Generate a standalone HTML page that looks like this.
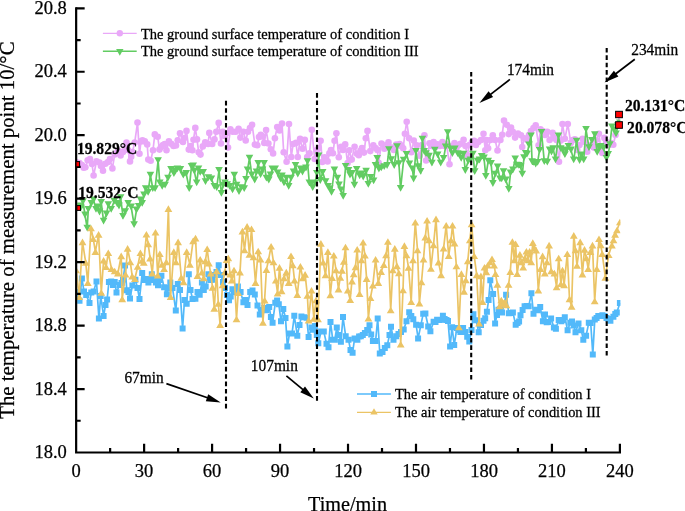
<!DOCTYPE html>
<html><head><meta charset="utf-8">
<style>
html,body{margin:0;padding:0;background:#fff;}
body{width:685px;height:511px;overflow:hidden;}
svg{display:block;will-change:transform;}
text{font-family:"Liberation Serif",serif;fill:#000;stroke:#000;stroke-width:0.25px;}
</style></head>
<body>
<svg width="685" height="511" viewBox="0 0 685 511">
<defs><clipPath id="pa"><rect x="77.2" y="0" width="543.2" height="452"/></clipPath></defs>
<g clip-path="url(#pa)">
<polyline points="76.2,162.1 79.5,163.0 82.0,165.0 83.7,167.7 85.4,167.3 87.7,160.2 90.0,159.0 92.0,164.0 93.6,175.5 96.5,161.4 99.5,162.6 101.0,166.0 103.0,170.8 105.4,163.7 108.0,162.0 110.0,159.0 112.4,168.4 114.7,154.4 116.5,153.0 118.3,150.8 120.6,155.5 123.0,152.0 125.0,148.0 126.5,142.6 128.0,150.0 130.0,161.4 131.2,156.7 132.4,152.0 134.7,142.6 137.5,122.6 139.5,153.7 141.0,141.4 142.5,140.2 144.8,141.4 147.2,144.4 148.3,159.6 150.7,160.8 153.0,150.2 154.8,134.4 157.7,136.7 159.5,149.6 161.0,147.0 163.0,145.0 164.8,144.0 166.5,150.2 168.9,141.4 171.2,143.8 173.5,146.0 176.0,145.5 177.7,140.2 180.0,133.2 183.0,142.0 184.5,138.0 186.5,130.9 188.8,149.6 190.5,146.0 192.4,150.2 193.5,139.7 195.3,127.9 197.0,139.4 198.7,152.3 200.5,154.6 202.8,146.4 205.2,142.3 208.1,144.0 209.3,132.9 212.2,144.0 214.5,139.4 216.3,131.7 218.7,122.9 221.0,143.5 222.8,131.7 224.6,135.9 226.3,133.5 228.0,147.6 230.4,129.4 232.7,131.7 235.7,131.7 238.6,128.8 240.4,137.6 243.3,131.7 245.7,140.5 248.0,131.7 250.0,128.0 252.1,124.7 254.9,144.6 257.3,145.2 259.0,137.0 260.8,134.8 262.6,136.4 264.3,142.9 266.1,130.0 268.4,143.5 270.8,149.3 273.1,153.4 274.9,138.2 277.2,127.0 279.6,130.5 282.0,123.5 283.7,152.3 286.6,161.7 289.0,124.1 291.3,157.0 293.1,144.0 296.0,142.9 297.8,157.0 300.1,138.8 302.5,148.7 304.8,139.9 307.2,157.0 309.5,153.4 311.8,129.7 314.7,159.0 317.0,150.0 318.8,148.0 320.6,140.8 322.3,162.0 324.7,157.3 327.6,161.4 329.4,153.2 331.0,150.0 332.9,153.2 334.6,140.7 336.4,133.2 338.8,157.3 341.1,146.7 343.0,150.0 345.2,144.4 347.6,163.1 349.3,150.2 351.7,159.6 354.6,146.7 357.0,153.7 358.8,155.3 360.5,150.8 362.0,148.0 364.0,152.6 365.8,138.3 367.5,130.9 370.3,151.1 373.3,145.2 375.5,148.0 377.4,149.9 378.6,162.8 381.5,143.5 384.4,148.7 386.5,145.0 388.5,142.3 391.5,147.6 393.8,150.0 396.2,144.6 397.9,145.8 399.7,144.0 401.5,146.0 403.2,148.2 404.9,133.7 406.7,121.7 409.1,138.2 411.4,152.3 413.8,140.5 416.7,145.2 419.7,155.8 422.0,145.0 424.4,135.2 426.1,160.5 427.8,155.4 429.5,143.2 431.5,146.0 433.6,142.0 435.5,147.0 437.7,144.4 440.0,146.0 442.4,142.0 444.5,146.0 446.5,144.4 449.5,164.3 452.4,146.1 454.5,143.0 456.5,148.0 458.5,145.0 460.6,143.8 463.6,139.7 465.5,146.0 467.1,154.9 469.5,145.0 472.0,142.0 474.1,140.8 476.0,145.0 478.2,142.0 481.0,140.0 483.5,133.8 485.3,150.2 486.3,140.0 488.1,148.2 490.5,140.0 492.8,135.2 495.2,140.0 497.5,150.5 500.4,140.0 502.2,134.7 504.0,120.6 506.9,124.7 508.7,134.1 511.0,127.6 512.8,131.7 515.1,137.6 518.0,133.5 521.0,135.2 522.2,147.0 524.5,138.2 527.4,140.0 529.0,135.0 531.0,131.1 533.5,128.0 535.7,125.3 538.6,145.2 540.5,129.4 542.7,131.1 545.0,135.0 547.3,131.7 549.6,140.0 552.6,132.9 554.5,138.0 556.5,140.0 559.0,161.7 560.8,140.5 562.5,124.1 564.9,138.8 567.8,124.1 570.8,142.9 572.8,140.0 574.9,139.4 577.2,149.9 579.5,145.0 582.5,138.8 584.5,142.0 587.2,151.7 589.5,146.0 591.5,145.0 593.7,147.6 596.0,140.0 598.9,133.8 600.6,146.7 602.3,153.0 604.4,137.9 606.5,142.0 609.0,145.0 611.0,143.0 613.3,144.7 615.5,135.0 617.4,125.0 619.9,114.4" fill="none" stroke="#E9A8F8" stroke-width="1.7"/>
<g fill="#E9A8F8"><circle cx="76.2" cy="162.1" r="3.3"/><circle cx="79.5" cy="163.0" r="3.3"/><circle cx="82.0" cy="165.0" r="3.3"/><circle cx="83.7" cy="167.7" r="3.3"/><circle cx="85.4" cy="167.3" r="3.3"/><circle cx="87.7" cy="160.2" r="3.3"/><circle cx="90.0" cy="159.0" r="3.3"/><circle cx="92.0" cy="164.0" r="3.3"/><circle cx="93.6" cy="175.5" r="3.3"/><circle cx="96.5" cy="161.4" r="3.3"/><circle cx="99.5" cy="162.6" r="3.3"/><circle cx="101.0" cy="166.0" r="3.3"/><circle cx="103.0" cy="170.8" r="3.3"/><circle cx="105.4" cy="163.7" r="3.3"/><circle cx="108.0" cy="162.0" r="3.3"/><circle cx="110.0" cy="159.0" r="3.3"/><circle cx="112.4" cy="168.4" r="3.3"/><circle cx="114.7" cy="154.4" r="3.3"/><circle cx="116.5" cy="153.0" r="3.3"/><circle cx="118.3" cy="150.8" r="3.3"/><circle cx="120.6" cy="155.5" r="3.3"/><circle cx="123.0" cy="152.0" r="3.3"/><circle cx="125.0" cy="148.0" r="3.3"/><circle cx="126.5" cy="142.6" r="3.3"/><circle cx="128.0" cy="150.0" r="3.3"/><circle cx="130.0" cy="161.4" r="3.3"/><circle cx="131.2" cy="156.7" r="3.3"/><circle cx="132.4" cy="152.0" r="3.3"/><circle cx="134.7" cy="142.6" r="3.3"/><circle cx="137.5" cy="122.6" r="3.3"/><circle cx="139.5" cy="153.7" r="3.3"/><circle cx="141.0" cy="141.4" r="3.3"/><circle cx="142.5" cy="140.2" r="3.3"/><circle cx="144.8" cy="141.4" r="3.3"/><circle cx="147.2" cy="144.4" r="3.3"/><circle cx="148.3" cy="159.6" r="3.3"/><circle cx="150.7" cy="160.8" r="3.3"/><circle cx="153.0" cy="150.2" r="3.3"/><circle cx="154.8" cy="134.4" r="3.3"/><circle cx="157.7" cy="136.7" r="3.3"/><circle cx="159.5" cy="149.6" r="3.3"/><circle cx="161.0" cy="147.0" r="3.3"/><circle cx="163.0" cy="145.0" r="3.3"/><circle cx="164.8" cy="144.0" r="3.3"/><circle cx="166.5" cy="150.2" r="3.3"/><circle cx="168.9" cy="141.4" r="3.3"/><circle cx="171.2" cy="143.8" r="3.3"/><circle cx="173.5" cy="146.0" r="3.3"/><circle cx="176.0" cy="145.5" r="3.3"/><circle cx="177.7" cy="140.2" r="3.3"/><circle cx="180.0" cy="133.2" r="3.3"/><circle cx="183.0" cy="142.0" r="3.3"/><circle cx="184.5" cy="138.0" r="3.3"/><circle cx="186.5" cy="130.9" r="3.3"/><circle cx="188.8" cy="149.6" r="3.3"/><circle cx="190.5" cy="146.0" r="3.3"/><circle cx="192.4" cy="150.2" r="3.3"/><circle cx="193.5" cy="139.7" r="3.3"/><circle cx="195.3" cy="127.9" r="3.3"/><circle cx="197.0" cy="139.4" r="3.3"/><circle cx="198.7" cy="152.3" r="3.3"/><circle cx="200.5" cy="154.6" r="3.3"/><circle cx="202.8" cy="146.4" r="3.3"/><circle cx="205.2" cy="142.3" r="3.3"/><circle cx="208.1" cy="144.0" r="3.3"/><circle cx="209.3" cy="132.9" r="3.3"/><circle cx="212.2" cy="144.0" r="3.3"/><circle cx="214.5" cy="139.4" r="3.3"/><circle cx="216.3" cy="131.7" r="3.3"/><circle cx="218.7" cy="122.9" r="3.3"/><circle cx="221.0" cy="143.5" r="3.3"/><circle cx="222.8" cy="131.7" r="3.3"/><circle cx="224.6" cy="135.9" r="3.3"/><circle cx="226.3" cy="133.5" r="3.3"/><circle cx="228.0" cy="147.6" r="3.3"/><circle cx="230.4" cy="129.4" r="3.3"/><circle cx="232.7" cy="131.7" r="3.3"/><circle cx="235.7" cy="131.7" r="3.3"/><circle cx="238.6" cy="128.8" r="3.3"/><circle cx="240.4" cy="137.6" r="3.3"/><circle cx="243.3" cy="131.7" r="3.3"/><circle cx="245.7" cy="140.5" r="3.3"/><circle cx="248.0" cy="131.7" r="3.3"/><circle cx="250.0" cy="128.0" r="3.3"/><circle cx="252.1" cy="124.7" r="3.3"/><circle cx="254.9" cy="144.6" r="3.3"/><circle cx="257.3" cy="145.2" r="3.3"/><circle cx="259.0" cy="137.0" r="3.3"/><circle cx="260.8" cy="134.8" r="3.3"/><circle cx="262.6" cy="136.4" r="3.3"/><circle cx="264.3" cy="142.9" r="3.3"/><circle cx="266.1" cy="130.0" r="3.3"/><circle cx="268.4" cy="143.5" r="3.3"/><circle cx="270.8" cy="149.3" r="3.3"/><circle cx="273.1" cy="153.4" r="3.3"/><circle cx="274.9" cy="138.2" r="3.3"/><circle cx="277.2" cy="127.0" r="3.3"/><circle cx="279.6" cy="130.5" r="3.3"/><circle cx="282.0" cy="123.5" r="3.3"/><circle cx="283.7" cy="152.3" r="3.3"/><circle cx="286.6" cy="161.7" r="3.3"/><circle cx="289.0" cy="124.1" r="3.3"/><circle cx="291.3" cy="157.0" r="3.3"/><circle cx="293.1" cy="144.0" r="3.3"/><circle cx="296.0" cy="142.9" r="3.3"/><circle cx="297.8" cy="157.0" r="3.3"/><circle cx="300.1" cy="138.8" r="3.3"/><circle cx="302.5" cy="148.7" r="3.3"/><circle cx="304.8" cy="139.9" r="3.3"/><circle cx="307.2" cy="157.0" r="3.3"/><circle cx="309.5" cy="153.4" r="3.3"/><circle cx="311.8" cy="129.7" r="3.3"/><circle cx="314.7" cy="159.0" r="3.3"/><circle cx="317.0" cy="150.0" r="3.3"/><circle cx="318.8" cy="148.0" r="3.3"/><circle cx="320.6" cy="140.8" r="3.3"/><circle cx="322.3" cy="162.0" r="3.3"/><circle cx="324.7" cy="157.3" r="3.3"/><circle cx="327.6" cy="161.4" r="3.3"/><circle cx="329.4" cy="153.2" r="3.3"/><circle cx="331.0" cy="150.0" r="3.3"/><circle cx="332.9" cy="153.2" r="3.3"/><circle cx="334.6" cy="140.7" r="3.3"/><circle cx="336.4" cy="133.2" r="3.3"/><circle cx="338.8" cy="157.3" r="3.3"/><circle cx="341.1" cy="146.7" r="3.3"/><circle cx="343.0" cy="150.0" r="3.3"/><circle cx="345.2" cy="144.4" r="3.3"/><circle cx="347.6" cy="163.1" r="3.3"/><circle cx="349.3" cy="150.2" r="3.3"/><circle cx="351.7" cy="159.6" r="3.3"/><circle cx="354.6" cy="146.7" r="3.3"/><circle cx="357.0" cy="153.7" r="3.3"/><circle cx="358.8" cy="155.3" r="3.3"/><circle cx="360.5" cy="150.8" r="3.3"/><circle cx="362.0" cy="148.0" r="3.3"/><circle cx="364.0" cy="152.6" r="3.3"/><circle cx="365.8" cy="138.3" r="3.3"/><circle cx="367.5" cy="130.9" r="3.3"/><circle cx="370.3" cy="151.1" r="3.3"/><circle cx="373.3" cy="145.2" r="3.3"/><circle cx="375.5" cy="148.0" r="3.3"/><circle cx="377.4" cy="149.9" r="3.3"/><circle cx="378.6" cy="162.8" r="3.3"/><circle cx="381.5" cy="143.5" r="3.3"/><circle cx="384.4" cy="148.7" r="3.3"/><circle cx="386.5" cy="145.0" r="3.3"/><circle cx="388.5" cy="142.3" r="3.3"/><circle cx="391.5" cy="147.6" r="3.3"/><circle cx="393.8" cy="150.0" r="3.3"/><circle cx="396.2" cy="144.6" r="3.3"/><circle cx="397.9" cy="145.8" r="3.3"/><circle cx="399.7" cy="144.0" r="3.3"/><circle cx="401.5" cy="146.0" r="3.3"/><circle cx="403.2" cy="148.2" r="3.3"/><circle cx="404.9" cy="133.7" r="3.3"/><circle cx="406.7" cy="121.7" r="3.3"/><circle cx="409.1" cy="138.2" r="3.3"/><circle cx="411.4" cy="152.3" r="3.3"/><circle cx="413.8" cy="140.5" r="3.3"/><circle cx="416.7" cy="145.2" r="3.3"/><circle cx="419.7" cy="155.8" r="3.3"/><circle cx="422.0" cy="145.0" r="3.3"/><circle cx="424.4" cy="135.2" r="3.3"/><circle cx="426.1" cy="160.5" r="3.3"/><circle cx="427.8" cy="155.4" r="3.3"/><circle cx="429.5" cy="143.2" r="3.3"/><circle cx="431.5" cy="146.0" r="3.3"/><circle cx="433.6" cy="142.0" r="3.3"/><circle cx="435.5" cy="147.0" r="3.3"/><circle cx="437.7" cy="144.4" r="3.3"/><circle cx="440.0" cy="146.0" r="3.3"/><circle cx="442.4" cy="142.0" r="3.3"/><circle cx="444.5" cy="146.0" r="3.3"/><circle cx="446.5" cy="144.4" r="3.3"/><circle cx="449.5" cy="164.3" r="3.3"/><circle cx="452.4" cy="146.1" r="3.3"/><circle cx="454.5" cy="143.0" r="3.3"/><circle cx="456.5" cy="148.0" r="3.3"/><circle cx="458.5" cy="145.0" r="3.3"/><circle cx="460.6" cy="143.8" r="3.3"/><circle cx="463.6" cy="139.7" r="3.3"/><circle cx="465.5" cy="146.0" r="3.3"/><circle cx="467.1" cy="154.9" r="3.3"/><circle cx="469.5" cy="145.0" r="3.3"/><circle cx="472.0" cy="142.0" r="3.3"/><circle cx="474.1" cy="140.8" r="3.3"/><circle cx="476.0" cy="145.0" r="3.3"/><circle cx="478.2" cy="142.0" r="3.3"/><circle cx="481.0" cy="140.0" r="3.3"/><circle cx="483.5" cy="133.8" r="3.3"/><circle cx="485.3" cy="150.2" r="3.3"/><circle cx="486.3" cy="140.0" r="3.3"/><circle cx="488.1" cy="148.2" r="3.3"/><circle cx="490.5" cy="140.0" r="3.3"/><circle cx="492.8" cy="135.2" r="3.3"/><circle cx="495.2" cy="140.0" r="3.3"/><circle cx="497.5" cy="150.5" r="3.3"/><circle cx="500.4" cy="140.0" r="3.3"/><circle cx="502.2" cy="134.7" r="3.3"/><circle cx="504.0" cy="120.6" r="3.3"/><circle cx="506.9" cy="124.7" r="3.3"/><circle cx="508.7" cy="134.1" r="3.3"/><circle cx="511.0" cy="127.6" r="3.3"/><circle cx="512.8" cy="131.7" r="3.3"/><circle cx="515.1" cy="137.6" r="3.3"/><circle cx="518.0" cy="133.5" r="3.3"/><circle cx="521.0" cy="135.2" r="3.3"/><circle cx="522.2" cy="147.0" r="3.3"/><circle cx="524.5" cy="138.2" r="3.3"/><circle cx="527.4" cy="140.0" r="3.3"/><circle cx="529.0" cy="135.0" r="3.3"/><circle cx="531.0" cy="131.1" r="3.3"/><circle cx="533.5" cy="128.0" r="3.3"/><circle cx="535.7" cy="125.3" r="3.3"/><circle cx="538.6" cy="145.2" r="3.3"/><circle cx="540.5" cy="129.4" r="3.3"/><circle cx="542.7" cy="131.1" r="3.3"/><circle cx="545.0" cy="135.0" r="3.3"/><circle cx="547.3" cy="131.7" r="3.3"/><circle cx="549.6" cy="140.0" r="3.3"/><circle cx="552.6" cy="132.9" r="3.3"/><circle cx="554.5" cy="138.0" r="3.3"/><circle cx="556.5" cy="140.0" r="3.3"/><circle cx="559.0" cy="161.7" r="3.3"/><circle cx="560.8" cy="140.5" r="3.3"/><circle cx="562.5" cy="124.1" r="3.3"/><circle cx="564.9" cy="138.8" r="3.3"/><circle cx="567.8" cy="124.1" r="3.3"/><circle cx="570.8" cy="142.9" r="3.3"/><circle cx="572.8" cy="140.0" r="3.3"/><circle cx="574.9" cy="139.4" r="3.3"/><circle cx="577.2" cy="149.9" r="3.3"/><circle cx="579.5" cy="145.0" r="3.3"/><circle cx="582.5" cy="138.8" r="3.3"/><circle cx="584.5" cy="142.0" r="3.3"/><circle cx="587.2" cy="151.7" r="3.3"/><circle cx="589.5" cy="146.0" r="3.3"/><circle cx="591.5" cy="145.0" r="3.3"/><circle cx="593.7" cy="147.6" r="3.3"/><circle cx="596.0" cy="140.0" r="3.3"/><circle cx="598.9" cy="133.8" r="3.3"/><circle cx="600.6" cy="146.7" r="3.3"/><circle cx="602.3" cy="153.0" r="3.3"/><circle cx="604.4" cy="137.9" r="3.3"/><circle cx="606.5" cy="142.0" r="3.3"/><circle cx="609.0" cy="145.0" r="3.3"/><circle cx="611.0" cy="143.0" r="3.3"/><circle cx="613.3" cy="144.7" r="3.3"/><circle cx="615.5" cy="135.0" r="3.3"/><circle cx="617.4" cy="125.0" r="3.3"/><circle cx="619.9" cy="114.4" r="3.3"/></g>
<polyline points="76.2,209.5 78.5,206.0 80.7,208.2 83.0,201.7 85.0,215.0 87.2,228.1 88.3,209.4 91.3,203.5 93.6,200.0 96.0,209.4 97.7,207.0 99.5,212.0 101.2,202.3 103.6,221.1 106.5,214.0 108.3,204.7 111.2,209.4 114.2,201.1 117.1,203.5 119.0,206.0 120.6,197.6 123.0,216.4 125.3,211.7 128.2,203.5 131.2,207.0 134.1,224.6 136.5,210.0 138.7,206.4 140.5,200.0 142.2,203.4 144.0,195.0 145.7,188.7 148.1,192.3 150.4,175.2 152.8,188.7 155.1,188.7 158.1,160.6 159.8,182.9 162.2,186.4 165.1,185.2 168.0,178.2 171.0,169.4 173.9,173.5 175.5,171.0 177.4,168.8 180.4,169.4 183.3,175.2 186.2,173.5 189.2,188.7 191.5,166.4 193.2,165.9 194.3,171.1 196.7,182.9 198.5,168.8 200.2,172.3 203.2,172.3 205.5,181.7 208.4,177.6 211.4,178.8 214.3,186.4 216.7,187.6 219.0,170.5 221.4,193.4 223.1,185.2 225.0,183.0 227.2,184.6 229.6,186.4 232.5,189.9 234.3,175.2 236.6,185.2 239.0,191.7 241.3,187.6 244.2,188.7 246.0,179.4 247.5,170.0 249.5,158.2 251.8,175.0 254.7,180.0 256.5,172.0 258.2,163.5 260.6,174.7 262.5,170.0 264.1,163.5 266.4,178.2 268.8,180.0 270.5,175.0 272.3,168.8 275.2,168.8 277.6,172.9 280.5,178.8 282.0,176.0 284.0,182.9 286.4,178.2 288.7,186.4 291.1,178.2 293.5,172.0 295.5,165.3 297.8,174.1 300.5,168.8 302.5,172.0 304.0,169.4 306.0,168.0 307.5,161.7 309.3,182.9 311.0,184.0 312.7,187.6 315.0,183.0 316.8,173.3 318.6,155.9 320.3,180.5 322.7,172.3 325.6,181.7 328.0,186.4 329.8,189.0 331.5,192.3 334.4,170.0 337.4,178.2 339.0,185.0 340.9,189.9 343.2,196.4 345.6,166.4 348.5,170.5 350.0,175.0 352.0,173.5 354.4,185.2 356.7,169.4 359.7,175.8 361.5,174.0 363.2,177.0 366.1,171.1 368.3,184.3 370.7,177.3 373.6,180.8 375.5,165.5 377.2,158.5 378.9,169.0 381.3,167.9 384.2,166.7 387.1,165.5 388.9,149.7 391.2,159.7 394.2,165.5 397.1,146.7 398.9,163.7 400.6,188.4 403.6,160.2 406.5,154.4 409.4,163.8 412.4,169.0 413.6,179.0 415.9,151.4 418.2,166.7 420.6,171.4 422.4,139.1 424.1,151.4 426.0,153.7 429.0,156.1 431.9,163.1 434.8,150.2 437.7,154.9 440.7,163.1 443.6,158.4 445.6,146.9 447.7,132.6 450.5,149.0 452.4,153.7 454.8,149.0 457.7,153.7 459.4,154.6 461.2,158.4 463.5,154.1 465.3,170.5 468.2,161.1 470.5,160.0 472.9,154.1 474.7,171.7 477.6,161.1 479.5,160.0 481.7,156.4 484.0,158.0 485.8,176.4 488.2,161.1 491.1,163.5 492.9,183.5 495.2,174.1 497.6,167.0 500.0,178.8 501.8,178.8 503.5,171.7 505.8,180.0 508.8,189.3 510.5,172.9 512.9,170.0 515.2,158.8 516.9,165.2 518.8,165.3 520.5,166.4 522.3,174.1 524.0,157.6 525.7,153.4 527.0,154.1 529.0,145.0 531.0,135.8 532.1,161.7 533.4,162.3 535.7,164.0 537.6,162.3 539.5,150.4 541.5,132.3 544.3,161.7 547.3,162.2 549.6,149.9 551.5,152.0 553.2,148.7 555.5,159.9 558.4,135.8 560.8,148.7 563.0,150.0 564.9,154.6 566.5,150.0 568.4,146.4 571.0,150.0 573.7,159.9 576.6,141.1 579.6,160.5 581.5,155.0 583.7,159.9 586.0,129.4 589.0,147.6 591.9,140.5 594.8,134.7 597.2,152.3 599.0,147.3 600.7,146.4 603.5,148.0 606.4,158.4 608.1,154.4 609.9,144.7 611.9,126.9 614.0,130.0 616.0,133.8 618.0,125.5 619.9,122.9" fill="none" stroke="#62CC62" stroke-width="1.7"/>
<path fill="#62CC62" d="M72.4,206.1h7.6l-3.8,6.8zM74.7,202.6h7.6l-3.8,6.8zM76.9,204.8h7.6l-3.8,6.8zM79.2,198.3h7.6l-3.8,6.8zM81.2,211.6h7.6l-3.8,6.8zM83.4,224.7h7.6l-3.8,6.8zM84.5,206.0h7.6l-3.8,6.8zM87.5,200.1h7.6l-3.8,6.8zM89.8,196.6h7.6l-3.8,6.8zM92.2,206.0h7.6l-3.8,6.8zM93.9,203.6h7.6l-3.8,6.8zM95.7,208.6h7.6l-3.8,6.8zM97.4,198.9h7.6l-3.8,6.8zM99.8,217.7h7.6l-3.8,6.8zM102.7,210.6h7.6l-3.8,6.8zM104.5,201.3h7.6l-3.8,6.8zM107.4,206.0h7.6l-3.8,6.8zM110.4,197.7h7.6l-3.8,6.8zM113.3,200.1h7.6l-3.8,6.8zM115.2,202.6h7.6l-3.8,6.8zM116.8,194.2h7.6l-3.8,6.8zM119.2,213.0h7.6l-3.8,6.8zM121.5,208.3h7.6l-3.8,6.8zM124.4,200.1h7.6l-3.8,6.8zM127.4,203.6h7.6l-3.8,6.8zM130.3,221.2h7.6l-3.8,6.8zM132.7,206.6h7.6l-3.8,6.8zM134.9,203.0h7.6l-3.8,6.8zM136.7,196.6h7.6l-3.8,6.8zM138.4,200.0h7.6l-3.8,6.8zM140.2,191.6h7.6l-3.8,6.8zM141.9,185.3h7.6l-3.8,6.8zM144.3,188.9h7.6l-3.8,6.8zM146.6,171.8h7.6l-3.8,6.8zM149.0,185.3h7.6l-3.8,6.8zM151.3,185.3h7.6l-3.8,6.8zM154.3,157.2h7.6l-3.8,6.8zM156.0,179.5h7.6l-3.8,6.8zM158.4,183.0h7.6l-3.8,6.8zM161.3,181.8h7.6l-3.8,6.8zM164.2,174.8h7.6l-3.8,6.8zM167.2,166.0h7.6l-3.8,6.8zM170.1,170.1h7.6l-3.8,6.8zM171.7,167.6h7.6l-3.8,6.8zM173.6,165.4h7.6l-3.8,6.8zM176.6,166.0h7.6l-3.8,6.8zM179.5,171.8h7.6l-3.8,6.8zM182.4,170.1h7.6l-3.8,6.8zM185.4,185.3h7.6l-3.8,6.8zM187.7,163.0h7.6l-3.8,6.8zM189.4,162.5h7.6l-3.8,6.8zM190.5,167.7h7.6l-3.8,6.8zM192.9,179.5h7.6l-3.8,6.8zM194.7,165.4h7.6l-3.8,6.8zM196.4,168.9h7.6l-3.8,6.8zM199.4,168.9h7.6l-3.8,6.8zM201.7,178.3h7.6l-3.8,6.8zM204.6,174.2h7.6l-3.8,6.8zM207.6,175.4h7.6l-3.8,6.8zM210.5,183.0h7.6l-3.8,6.8zM212.9,184.2h7.6l-3.8,6.8zM215.2,167.1h7.6l-3.8,6.8zM217.6,190.0h7.6l-3.8,6.8zM219.3,181.8h7.6l-3.8,6.8zM221.2,179.6h7.6l-3.8,6.8zM223.4,181.2h7.6l-3.8,6.8zM225.8,183.0h7.6l-3.8,6.8zM228.7,186.5h7.6l-3.8,6.8zM230.5,171.8h7.6l-3.8,6.8zM232.8,181.8h7.6l-3.8,6.8zM235.2,188.3h7.6l-3.8,6.8zM237.5,184.2h7.6l-3.8,6.8zM240.4,185.3h7.6l-3.8,6.8zM242.2,176.0h7.6l-3.8,6.8zM243.7,166.6h7.6l-3.8,6.8zM245.7,154.8h7.6l-3.8,6.8zM248.0,171.6h7.6l-3.8,6.8zM250.9,176.6h7.6l-3.8,6.8zM252.7,168.6h7.6l-3.8,6.8zM254.4,160.1h7.6l-3.8,6.8zM256.8,171.3h7.6l-3.8,6.8zM258.7,166.6h7.6l-3.8,6.8zM260.3,160.1h7.6l-3.8,6.8zM262.6,174.8h7.6l-3.8,6.8zM265.0,176.6h7.6l-3.8,6.8zM266.7,171.6h7.6l-3.8,6.8zM268.5,165.4h7.6l-3.8,6.8zM271.4,165.4h7.6l-3.8,6.8zM273.8,169.5h7.6l-3.8,6.8zM276.7,175.4h7.6l-3.8,6.8zM278.2,172.6h7.6l-3.8,6.8zM280.2,179.5h7.6l-3.8,6.8zM282.6,174.8h7.6l-3.8,6.8zM284.9,183.0h7.6l-3.8,6.8zM287.3,174.8h7.6l-3.8,6.8zM289.7,168.6h7.6l-3.8,6.8zM291.7,161.9h7.6l-3.8,6.8zM294.0,170.7h7.6l-3.8,6.8zM296.7,165.4h7.6l-3.8,6.8zM298.7,168.6h7.6l-3.8,6.8zM300.2,166.0h7.6l-3.8,6.8zM302.2,164.6h7.6l-3.8,6.8zM303.7,158.3h7.6l-3.8,6.8zM305.5,179.5h7.6l-3.8,6.8zM307.2,180.6h7.6l-3.8,6.8zM308.9,184.2h7.6l-3.8,6.8zM311.2,179.6h7.6l-3.8,6.8zM313.0,169.9h7.6l-3.8,6.8zM314.8,152.5h7.6l-3.8,6.8zM316.5,177.1h7.6l-3.8,6.8zM318.9,168.9h7.6l-3.8,6.8zM321.8,178.3h7.6l-3.8,6.8zM324.2,183.0h7.6l-3.8,6.8zM326.0,185.6h7.6l-3.8,6.8zM327.7,188.9h7.6l-3.8,6.8zM330.6,166.6h7.6l-3.8,6.8zM333.6,174.8h7.6l-3.8,6.8zM335.2,181.6h7.6l-3.8,6.8zM337.1,186.5h7.6l-3.8,6.8zM339.4,193.0h7.6l-3.8,6.8zM341.8,163.0h7.6l-3.8,6.8zM344.7,167.1h7.6l-3.8,6.8zM346.2,171.6h7.6l-3.8,6.8zM348.2,170.1h7.6l-3.8,6.8zM350.6,181.8h7.6l-3.8,6.8zM352.9,166.0h7.6l-3.8,6.8zM355.9,172.4h7.6l-3.8,6.8zM357.7,170.6h7.6l-3.8,6.8zM359.4,173.6h7.6l-3.8,6.8zM362.3,167.7h7.6l-3.8,6.8zM364.5,180.9h7.6l-3.8,6.8zM366.9,173.9h7.6l-3.8,6.8zM369.8,177.4h7.6l-3.8,6.8zM371.7,162.1h7.6l-3.8,6.8zM373.4,155.1h7.6l-3.8,6.8zM375.1,165.6h7.6l-3.8,6.8zM377.5,164.5h7.6l-3.8,6.8zM380.4,163.3h7.6l-3.8,6.8zM383.3,162.1h7.6l-3.8,6.8zM385.1,146.3h7.6l-3.8,6.8zM387.4,156.3h7.6l-3.8,6.8zM390.4,162.1h7.6l-3.8,6.8zM393.3,143.3h7.6l-3.8,6.8zM395.1,160.3h7.6l-3.8,6.8zM396.8,185.0h7.6l-3.8,6.8zM399.8,156.8h7.6l-3.8,6.8zM402.7,151.0h7.6l-3.8,6.8zM405.6,160.4h7.6l-3.8,6.8zM408.6,165.6h7.6l-3.8,6.8zM409.8,175.6h7.6l-3.8,6.8zM412.1,148.0h7.6l-3.8,6.8zM414.4,163.3h7.6l-3.8,6.8zM416.8,168.0h7.6l-3.8,6.8zM418.6,135.7h7.6l-3.8,6.8zM420.3,148.0h7.6l-3.8,6.8zM422.2,150.3h7.6l-3.8,6.8zM425.2,152.7h7.6l-3.8,6.8zM428.1,159.7h7.6l-3.8,6.8zM431.0,146.8h7.6l-3.8,6.8zM433.9,151.5h7.6l-3.8,6.8zM436.9,159.7h7.6l-3.8,6.8zM439.8,155.0h7.6l-3.8,6.8zM441.8,143.5h7.6l-3.8,6.8zM443.9,129.2h7.6l-3.8,6.8zM446.7,145.6h7.6l-3.8,6.8zM448.6,150.3h7.6l-3.8,6.8zM451.0,145.6h7.6l-3.8,6.8zM453.9,150.3h7.6l-3.8,6.8zM455.6,151.2h7.6l-3.8,6.8zM457.4,155.0h7.6l-3.8,6.8zM459.7,150.7h7.6l-3.8,6.8zM461.5,167.1h7.6l-3.8,6.8zM464.4,157.7h7.6l-3.8,6.8zM466.7,156.6h7.6l-3.8,6.8zM469.1,150.7h7.6l-3.8,6.8zM470.9,168.3h7.6l-3.8,6.8zM473.8,157.7h7.6l-3.8,6.8zM475.7,156.6h7.6l-3.8,6.8zM477.9,153.0h7.6l-3.8,6.8zM480.2,154.6h7.6l-3.8,6.8zM482.0,173.0h7.6l-3.8,6.8zM484.4,157.7h7.6l-3.8,6.8zM487.3,160.1h7.6l-3.8,6.8zM489.1,180.1h7.6l-3.8,6.8zM491.4,170.7h7.6l-3.8,6.8zM493.8,163.6h7.6l-3.8,6.8zM496.2,175.4h7.6l-3.8,6.8zM497.9,175.4h7.6l-3.8,6.8zM499.7,168.3h7.6l-3.8,6.8zM502.0,176.6h7.6l-3.8,6.8zM505.0,185.9h7.6l-3.8,6.8zM506.7,169.5h7.6l-3.8,6.8zM509.1,166.6h7.6l-3.8,6.8zM511.4,155.4h7.6l-3.8,6.8zM513.1,161.8h7.6l-3.8,6.8zM515.0,161.9h7.6l-3.8,6.8zM516.8,163.0h7.6l-3.8,6.8zM518.5,170.7h7.6l-3.8,6.8zM520.2,154.2h7.6l-3.8,6.8zM521.9,150.0h7.6l-3.8,6.8zM523.2,150.7h7.6l-3.8,6.8zM525.2,141.6h7.6l-3.8,6.8zM527.2,132.4h7.6l-3.8,6.8zM528.3,158.3h7.6l-3.8,6.8zM529.6,158.9h7.6l-3.8,6.8zM531.9,160.6h7.6l-3.8,6.8zM533.8,158.9h7.6l-3.8,6.8zM535.8,147.0h7.6l-3.8,6.8zM537.7,128.9h7.6l-3.8,6.8zM540.5,158.3h7.6l-3.8,6.8zM543.5,158.8h7.6l-3.8,6.8zM545.8,146.5h7.6l-3.8,6.8zM547.7,148.6h7.6l-3.8,6.8zM549.4,145.3h7.6l-3.8,6.8zM551.7,156.5h7.6l-3.8,6.8zM554.6,132.4h7.6l-3.8,6.8zM557.0,145.3h7.6l-3.8,6.8zM559.2,146.6h7.6l-3.8,6.8zM561.1,151.2h7.6l-3.8,6.8zM562.7,146.6h7.6l-3.8,6.8zM564.6,143.0h7.6l-3.8,6.8zM567.2,146.6h7.6l-3.8,6.8zM569.9,156.5h7.6l-3.8,6.8zM572.8,137.7h7.6l-3.8,6.8zM575.8,157.1h7.6l-3.8,6.8zM577.7,151.6h7.6l-3.8,6.8zM579.9,156.5h7.6l-3.8,6.8zM582.2,126.0h7.6l-3.8,6.8zM585.2,144.2h7.6l-3.8,6.8zM588.1,137.1h7.6l-3.8,6.8zM591.0,131.3h7.6l-3.8,6.8zM593.4,148.9h7.6l-3.8,6.8zM595.2,143.9h7.6l-3.8,6.8zM596.9,143.0h7.6l-3.8,6.8zM599.7,144.6h7.6l-3.8,6.8zM602.6,155.0h7.6l-3.8,6.8zM604.4,151.0h7.6l-3.8,6.8zM606.1,141.3h7.6l-3.8,6.8zM608.1,123.5h7.6l-3.8,6.8zM610.2,126.6h7.6l-3.8,6.8zM612.2,130.4h7.6l-3.8,6.8zM614.2,122.1h7.6l-3.8,6.8zM616.1,119.5h7.6l-3.8,6.8z"/>
<polyline points="76.2,292.0 79.5,300.7 81.9,278.4 84.0,291.4 86.2,294.9 89.5,303.1 91.3,292.5 93.6,291.4 96.5,281.4 98.9,318.4 100.7,296.0 103.6,316.0 105.5,305.0 107.1,299.6 108.9,282.0 111.2,281.4 113.0,285.0 114.7,282.0 116.5,292.5 119.4,284.9 121.5,283.0 123.0,279.6 125.0,265.5 126.8,290.2 128.5,292.0 130.0,298.4 132.4,285.5 135.4,279.8 137.5,288.0 139.5,299.0 142.2,273.0 144.5,280.0 146.5,279.0 148.4,282.5 150.0,280.0 151.8,274.3 153.8,280.0 155.9,282.5 158.0,285.3 159.8,280.0 161.4,275.7 164.1,287.3 166.9,294.2 168.5,288.0 170.3,282.5 172.5,288.0 175.8,310.6 177.8,283.9 180.0,290.0 182.6,328.4 184.5,300.0 186.7,303.8 188.8,274.3 190.5,290.0 192.5,299.0 195.4,298.8 197.5,292.0 199.7,294.7 201.9,282.4 203.8,290.0 205.7,286.5 208.4,274.2 210.5,280.0 212.5,279.7 214.5,275.0 216.5,272.0 218.7,265.3 221.0,275.0 223.0,282.0 225.0,288.0 227.0,295.0 229.0,300.2 230.7,296.6 232.4,289.2 234.5,292.0 236.0,290.0 237.9,286.5 240.6,292.0 243.4,302.3 245.5,300.0 247.5,305.0 250.2,292.0 252.5,290.6 254.8,294.6 257.5,305.5 259.8,314.5 262.0,310.0 264.2,308.0 266.4,310.3 269.2,306.9 270.9,317.0 272.6,322.7 275.3,302.8 277.1,300.6 278.8,304.2 281.0,321.3 283.3,309.0 285.5,317.9 287.4,346.6 289.5,333.6 292.0,333.6 294.3,315.8 297.3,335.7 299.5,325.0 301.4,316.5 304.1,317.2 306.7,317.8 308.6,337.1 311.5,327.4 313.2,329.7 314.9,326.0 316.8,335.0 318.3,343.2 321.1,331.5 323.8,331.5 326.5,343.8 328.5,347.3 330.5,321.9 332.7,339.7 334.8,339.7 336.8,327.4 339.0,335.0 340.9,341.8 343.0,317.1 345.7,336.3 348.5,339.7 350.5,350.0 352.6,352.7 354.6,338.4 357.4,339.7 359.1,336.6 360.8,336.3 362.8,335.0 364.9,332.9 367.2,330.0 369.5,325.3 371.2,334.4 372.9,341.1 375.6,341.1 377.7,318.5 379.8,353.4 382.5,352.1 384.8,348.0 387.3,345.2 389.5,335.0 391.0,326.7 393.5,339.7 396.2,336.3 398.5,334.0 401.0,332.0 403.7,329.5 406.5,321.2 409.2,312.3 411.3,316.0 413.3,319.2 416.1,324.7 418.1,338.4 420.8,325.3 423.2,313.7 425.4,313.5 428.2,326.5 430.4,331.3 433.6,321.7 435.5,322.0 437.1,319.7 439.4,320.0 441.2,319.7 442.9,315.8 444.6,319.0 446.5,320.0 448.0,321.0 450.1,346.4 452.1,327.2 454.2,345.0 456.9,327.9 458.6,330.0 460.4,332.0 463.1,327.9 465.2,332.0 467.2,336.8 469.3,341.6 471.5,330.0 473.4,314.2 476.1,320.3 478.7,332.3 481.0,325.0 483.5,320.7 485.2,318.2 486.9,311.8 488.6,300.0 490.3,280.3 493.1,294.0 495.1,323.4 497.0,315.0 498.5,309.7 500.2,309.2 502.0,312.5 504.0,305.0 506.1,294.7 508.8,313.2 510.9,313.0 512.9,312.5 515.7,324.8 517.5,323.0 519.1,321.4 520.5,315.2 522.6,310.0 524.6,306.3 526.8,306.0 528.7,306.3 531.4,293.3 533.5,313.8 536.2,309.7 537.8,310.3 540.2,306.9 542.9,321.3 545.0,314.5 546.7,322.2 548.4,322.0 551.1,318.6 553.9,327.5 555.9,328.8 558.7,319.9 561.4,321.3 563.3,320.0 564.8,317.2 567.6,330.2 570.3,322.7 572.0,321.5 573.7,325.4 575.5,332.3 578.5,323.4 581.3,330.2 583.3,339.8 586.1,335.7 588.8,322.7 590.7,322.9 592.8,354.4 594.8,319.5 596.6,318.0 598.3,316.0 600.3,316.0 602.4,315.3 604.5,316.0 606.5,318.1 608.5,319.0 610.4,320.8 613.4,316.7 615.3,314.0 616.8,312.6 619.9,303.0" fill="none" stroke="#52B9FA" stroke-width="1.7"/>
<path fill="#52B9FA" d="M73.2,289.0h6v6h-6zM76.5,297.7h6v6h-6zM78.9,275.4h6v6h-6zM81.0,288.4h6v6h-6zM83.2,291.9h6v6h-6zM86.5,300.1h6v6h-6zM88.3,289.5h6v6h-6zM90.6,288.4h6v6h-6zM93.5,278.4h6v6h-6zM95.9,315.4h6v6h-6zM97.7,293.0h6v6h-6zM100.6,313.0h6v6h-6zM102.5,302.0h6v6h-6zM104.1,296.6h6v6h-6zM105.9,279.0h6v6h-6zM108.2,278.4h6v6h-6zM110.0,282.0h6v6h-6zM111.7,279.0h6v6h-6zM113.5,289.5h6v6h-6zM116.4,281.9h6v6h-6zM118.5,280.0h6v6h-6zM120.0,276.6h6v6h-6zM122.0,262.5h6v6h-6zM123.8,287.2h6v6h-6zM125.5,289.0h6v6h-6zM127.0,295.4h6v6h-6zM129.4,282.5h6v6h-6zM132.4,276.8h6v6h-6zM134.5,285.0h6v6h-6zM136.5,296.0h6v6h-6zM139.2,270.0h6v6h-6zM141.5,277.0h6v6h-6zM143.5,276.0h6v6h-6zM145.4,279.5h6v6h-6zM147.0,277.0h6v6h-6zM148.8,271.3h6v6h-6zM150.8,277.0h6v6h-6zM152.9,279.5h6v6h-6zM155.0,282.3h6v6h-6zM156.8,277.0h6v6h-6zM158.4,272.7h6v6h-6zM161.1,284.3h6v6h-6zM163.9,291.2h6v6h-6zM165.5,285.0h6v6h-6zM167.3,279.5h6v6h-6zM169.5,285.0h6v6h-6zM172.8,307.6h6v6h-6zM174.8,280.9h6v6h-6zM177.0,287.0h6v6h-6zM179.6,325.4h6v6h-6zM181.5,297.0h6v6h-6zM183.7,300.8h6v6h-6zM185.8,271.3h6v6h-6zM187.5,287.0h6v6h-6zM189.5,296.0h6v6h-6zM192.4,295.8h6v6h-6zM194.5,289.0h6v6h-6zM196.7,291.7h6v6h-6zM198.9,279.4h6v6h-6zM200.8,287.0h6v6h-6zM202.7,283.5h6v6h-6zM205.4,271.2h6v6h-6zM207.5,277.0h6v6h-6zM209.5,276.7h6v6h-6zM211.5,272.0h6v6h-6zM213.5,269.0h6v6h-6zM215.7,262.3h6v6h-6zM218.0,272.0h6v6h-6zM220.0,279.0h6v6h-6zM222.0,285.0h6v6h-6zM224.0,292.0h6v6h-6zM226.0,297.2h6v6h-6zM227.7,293.6h6v6h-6zM229.4,286.2h6v6h-6zM231.5,289.0h6v6h-6zM233.0,287.0h6v6h-6zM234.9,283.5h6v6h-6zM237.6,289.0h6v6h-6zM240.4,299.3h6v6h-6zM242.5,297.0h6v6h-6zM244.5,302.0h6v6h-6zM247.2,289.0h6v6h-6zM249.5,287.6h6v6h-6zM251.8,291.6h6v6h-6zM254.5,302.5h6v6h-6zM256.8,311.5h6v6h-6zM259.0,307.0h6v6h-6zM261.2,305.0h6v6h-6zM263.4,307.3h6v6h-6zM266.2,303.9h6v6h-6zM267.9,314.0h6v6h-6zM269.6,319.7h6v6h-6zM272.3,299.8h6v6h-6zM274.1,297.6h6v6h-6zM275.8,301.2h6v6h-6zM278.0,318.3h6v6h-6zM280.3,306.0h6v6h-6zM282.5,314.9h6v6h-6zM284.4,343.6h6v6h-6zM286.5,330.6h6v6h-6zM289.0,330.6h6v6h-6zM291.3,312.8h6v6h-6zM294.3,332.7h6v6h-6zM296.5,322.0h6v6h-6zM298.4,313.5h6v6h-6zM301.1,314.2h6v6h-6zM303.7,314.8h6v6h-6zM305.6,334.1h6v6h-6zM308.5,324.4h6v6h-6zM310.2,326.7h6v6h-6zM311.9,323.0h6v6h-6zM313.8,332.0h6v6h-6zM315.3,340.2h6v6h-6zM318.1,328.5h6v6h-6zM320.8,328.5h6v6h-6zM323.5,340.8h6v6h-6zM325.5,344.3h6v6h-6zM327.5,318.9h6v6h-6zM329.7,336.7h6v6h-6zM331.8,336.7h6v6h-6zM333.8,324.4h6v6h-6zM336.0,332.0h6v6h-6zM337.9,338.8h6v6h-6zM340.0,314.1h6v6h-6zM342.7,333.3h6v6h-6zM345.5,336.7h6v6h-6zM347.5,347.0h6v6h-6zM349.6,349.7h6v6h-6zM351.6,335.4h6v6h-6zM354.4,336.7h6v6h-6zM356.1,333.6h6v6h-6zM357.8,333.3h6v6h-6zM359.8,332.0h6v6h-6zM361.9,329.9h6v6h-6zM364.2,327.0h6v6h-6zM366.5,322.3h6v6h-6zM368.2,331.4h6v6h-6zM369.9,338.1h6v6h-6zM372.6,338.1h6v6h-6zM374.7,315.5h6v6h-6zM376.8,350.4h6v6h-6zM379.5,349.1h6v6h-6zM381.8,345.0h6v6h-6zM384.3,342.2h6v6h-6zM386.5,332.0h6v6h-6zM388.0,323.7h6v6h-6zM390.5,336.7h6v6h-6zM393.2,333.3h6v6h-6zM395.5,331.0h6v6h-6zM398.0,329.0h6v6h-6zM400.7,326.5h6v6h-6zM403.5,318.2h6v6h-6zM406.2,309.3h6v6h-6zM408.3,313.0h6v6h-6zM410.3,316.2h6v6h-6zM413.1,321.7h6v6h-6zM415.1,335.4h6v6h-6zM417.8,322.3h6v6h-6zM420.2,310.7h6v6h-6zM422.4,310.5h6v6h-6zM425.2,323.5h6v6h-6zM427.4,328.3h6v6h-6zM430.6,318.7h6v6h-6zM432.5,319.0h6v6h-6zM434.1,316.7h6v6h-6zM436.4,317.0h6v6h-6zM438.2,316.7h6v6h-6zM439.9,312.8h6v6h-6zM441.6,316.0h6v6h-6zM443.5,317.0h6v6h-6zM445.0,318.0h6v6h-6zM447.1,343.4h6v6h-6zM449.1,324.2h6v6h-6zM451.2,342.0h6v6h-6zM453.9,324.9h6v6h-6zM455.6,327.0h6v6h-6zM457.4,329.0h6v6h-6zM460.1,324.9h6v6h-6zM462.2,329.0h6v6h-6zM464.2,333.8h6v6h-6zM466.3,338.6h6v6h-6zM468.5,327.0h6v6h-6zM470.4,311.2h6v6h-6zM473.1,317.3h6v6h-6zM475.7,329.3h6v6h-6zM478.0,322.0h6v6h-6zM480.5,317.7h6v6h-6zM482.2,315.2h6v6h-6zM483.9,308.8h6v6h-6zM485.6,297.0h6v6h-6zM487.3,277.3h6v6h-6zM490.1,291.0h6v6h-6zM492.1,320.4h6v6h-6zM494.0,312.0h6v6h-6zM495.5,306.7h6v6h-6zM497.2,306.2h6v6h-6zM499.0,309.5h6v6h-6zM501.0,302.0h6v6h-6zM503.1,291.7h6v6h-6zM505.8,310.2h6v6h-6zM507.9,310.0h6v6h-6zM509.9,309.5h6v6h-6zM512.7,321.8h6v6h-6zM514.5,320.0h6v6h-6zM516.1,318.4h6v6h-6zM517.5,312.2h6v6h-6zM519.6,307.0h6v6h-6zM521.6,303.3h6v6h-6zM523.8,303.0h6v6h-6zM525.7,303.3h6v6h-6zM528.4,290.3h6v6h-6zM530.5,310.8h6v6h-6zM533.2,306.7h6v6h-6zM534.8,307.3h6v6h-6zM537.2,303.9h6v6h-6zM539.9,318.3h6v6h-6zM542.0,311.5h6v6h-6zM543.7,319.2h6v6h-6zM545.4,319.0h6v6h-6zM548.1,315.6h6v6h-6zM550.9,324.5h6v6h-6zM552.9,325.8h6v6h-6zM555.7,316.9h6v6h-6zM558.4,318.3h6v6h-6zM560.3,317.0h6v6h-6zM561.8,314.2h6v6h-6zM564.6,327.2h6v6h-6zM567.3,319.7h6v6h-6zM569.0,318.5h6v6h-6zM570.7,322.4h6v6h-6zM572.5,329.3h6v6h-6zM575.5,320.4h6v6h-6zM578.3,327.2h6v6h-6zM580.3,336.8h6v6h-6zM583.1,332.7h6v6h-6zM585.8,319.7h6v6h-6zM587.7,319.9h6v6h-6zM589.8,351.4h6v6h-6zM591.8,316.5h6v6h-6zM593.6,315.0h6v6h-6zM595.3,313.0h6v6h-6zM597.3,313.0h6v6h-6zM599.4,312.3h6v6h-6zM601.5,313.0h6v6h-6zM603.5,315.1h6v6h-6zM605.5,316.0h6v6h-6zM607.4,317.8h6v6h-6zM610.4,313.7h6v6h-6zM612.3,311.0h6v6h-6zM613.8,309.6h6v6h-6zM616.9,300.0h6v6h-6z"/>
<polyline points="76.2,270.0 79.2,296.8 82.5,241.9 85.7,262.4 87.8,282.8 91.0,228.0 93.2,238.7 95.4,251.6 98.6,234.4 101.3,292.5 103.6,260.2 106.1,266.7 108.3,252.7 111.5,268.8 114.7,271.0 117.9,273.1 121.2,255.9 122.2,298.9 125.5,274.2 127.6,248.4 130.3,262.0 132.2,276.1 134.9,278.8 137.7,266.5 140.4,252.8 142.1,260.4 143.8,262.4 146.4,234.3 148.2,244.0 150.1,258.1 152.3,273.1 155.5,232.3 157.7,275.3 159.8,253.8 162.0,264.5 164.1,268.8 166.3,262.0 168.4,208.6 170.6,296.8 173.8,251.6 176.0,262.0 178.1,241.9 181.3,277.4 183.5,282.0 186.7,251.6 189.9,264.5 193.1,240.9 195.5,238.1 197.5,275.6 200.2,259.2 201.9,272.1 203.7,278.0 205.4,260.9 207.2,248.7 208.9,263.1 210.7,273.3 212.5,287.4 214.3,308.4 216.6,270.9 218.3,303.5 220.1,324.8 222.5,285.0 224.8,272.0 226.6,259.8 228.3,258.0 230.1,274.2 231.8,280.3 234.0,270.0 236.5,319.0 238.2,292.8 240.0,272.1 242.4,231.1 244.5,250.0 247.1,226.4 249.4,254.5 251.5,228.7 253.5,256.9 255.5,282.6 258.2,251.0 260.5,259.2 262.9,322.5 264.6,300.2 266.4,269.8 268.5,260.0 271.1,246.3 273.5,262.0 275.8,280.3 277.6,293.2 279.5,267.4 281.6,290.9 284.0,278.0 286.3,272.1 288.7,282.6 291.0,255.7 292.8,265.0 294.5,280.3 297.3,294.6 300.4,266.2 302.7,278.0 305.1,274.4 307.4,295.5 308.6,320.1 311.5,290.3 313.9,318.4 316.0,300.0 318.0,319.0 320.9,243.4 323.2,262.2 325.5,275.0 327.9,251.6 330.3,295.0 332.1,277.6 333.8,255.2 336.0,270.0 338.5,289.1 340.2,277.5 342.0,270.4 343.8,261.4 345.5,247.0 347.8,290.3 350.2,299.7 351.9,281.1 353.7,273.9 355.4,266.9 357.2,249.3 359.6,293.8 361.5,260.0 363.1,242.3 364.9,255.3 366.6,278.6 368.4,318.2 370.5,297.7 372.8,285.3 375.6,259.3 378.3,282.6 381.1,271.6 383.8,264.8 386.0,255.0 387.9,241.5 390.7,310.0 392.8,270.0 394.8,248.4 396.9,265.9 398.9,273.0 400.7,344.2 403.0,290.0 404.4,245.6 406.5,255.0 408.5,267.5 411.2,301.8 413.0,260.0 415.3,222.3 417.5,250.0 419.4,303.2 421.5,282.0 423.5,259.3 425.3,237.1 427.1,220.2 429.0,240.0 430.9,268.5 433.5,245.0 436.0,218.9 438.5,262.2 441.1,274.9 443.6,248.2 446.2,225.3 448.7,255.8 451.0,240.0 452.5,225.3 454.5,243.1 456.4,266.0 458.9,327.0 461.4,273.6 464.0,291.4 465.8,280.0 467.8,260.9 469.8,240.0 471.6,224.0 474.2,255.8 476.7,274.9 479.1,323.2 480.9,275.9 482.6,301.7 484.5,267.3 486.3,272.0 487.7,265.2 490.0,262.0 492.0,258.7 494.1,265.2 495.5,273.8 497.4,284.5 499.5,306.0 501.3,300.0 502.9,303.9 504.7,302.0 506.4,304.9 508.6,284.5 510.3,271.6 512.4,241.5 514.3,260.0 515.6,243.7 517.2,273.8 519.9,254.4 521.5,262.0 523.2,267.3 524.8,258.0 526.4,251.2 528.0,260.0 529.6,251.2 531.2,262.0 532.8,242.6 534.5,248.0 536.1,250.1 538.3,290.3 540.5,268.8 542.6,255.9 544.8,273.1 546.9,262.0 549.1,245.1 551.2,270.9 554.4,273.1 556.6,287.0 558.7,258.0 560.9,283.8 562.5,270.0 564.1,284.9 567.3,253.7 569.5,298.9 571.6,306.4 573.8,235.4 575.5,250.0 577.0,265.5 580.2,241.9 582.4,274.1 584.5,249.4 586.4,258.0 588.2,268.8 590.4,251.6 592.5,245.1 594.7,301.0 596.8,268.8 599.0,238.7 600.8,245.0 602.2,253.7 605.4,277.4 608.7,254.8 611.9,245.1 613.5,240.0 615.1,234.4 617.0,230.0 619.9,222.0" fill="none" stroke="#EBC465" stroke-width="1.7"/>
<path fill="#EBC465" d="M72.2,273.3h7.8l-3.9,-6.6zM75.3,300.1h7.8l-3.9,-6.6zM78.6,245.2h7.8l-3.9,-6.6zM81.8,265.7h7.8l-3.9,-6.6zM83.9,286.1h7.8l-3.9,-6.6zM87.1,231.3h7.8l-3.9,-6.6zM89.3,242.0h7.8l-3.9,-6.6zM91.5,254.9h7.8l-3.9,-6.6zM94.7,237.7h7.8l-3.9,-6.6zM97.4,295.8h7.8l-3.9,-6.6zM99.7,263.5h7.8l-3.9,-6.6zM102.2,270.0h7.8l-3.9,-6.6zM104.4,256.0h7.8l-3.9,-6.6zM107.6,272.1h7.8l-3.9,-6.6zM110.8,274.3h7.8l-3.9,-6.6zM114.0,276.4h7.8l-3.9,-6.6zM117.3,259.2h7.8l-3.9,-6.6zM118.3,302.2h7.8l-3.9,-6.6zM121.6,277.5h7.8l-3.9,-6.6zM123.7,251.7h7.8l-3.9,-6.6zM126.4,265.3h7.8l-3.9,-6.6zM128.3,279.4h7.8l-3.9,-6.6zM131.0,282.1h7.8l-3.9,-6.6zM133.8,269.8h7.8l-3.9,-6.6zM136.5,256.1h7.8l-3.9,-6.6zM138.2,263.7h7.8l-3.9,-6.6zM139.9,265.7h7.8l-3.9,-6.6zM142.5,237.6h7.8l-3.9,-6.6zM144.3,247.3h7.8l-3.9,-6.6zM146.2,261.4h7.8l-3.9,-6.6zM148.4,276.4h7.8l-3.9,-6.6zM151.6,235.6h7.8l-3.9,-6.6zM153.8,278.6h7.8l-3.9,-6.6zM155.9,257.1h7.8l-3.9,-6.6zM158.1,267.8h7.8l-3.9,-6.6zM160.2,272.1h7.8l-3.9,-6.6zM162.4,265.3h7.8l-3.9,-6.6zM164.5,211.9h7.8l-3.9,-6.6zM166.7,300.1h7.8l-3.9,-6.6zM169.9,254.9h7.8l-3.9,-6.6zM172.1,265.3h7.8l-3.9,-6.6zM174.2,245.2h7.8l-3.9,-6.6zM177.4,280.7h7.8l-3.9,-6.6zM179.6,285.3h7.8l-3.9,-6.6zM182.8,254.9h7.8l-3.9,-6.6zM186.0,267.8h7.8l-3.9,-6.6zM189.2,244.2h7.8l-3.9,-6.6zM191.6,241.4h7.8l-3.9,-6.6zM193.6,278.9h7.8l-3.9,-6.6zM196.3,262.5h7.8l-3.9,-6.6zM198.0,275.4h7.8l-3.9,-6.6zM199.8,281.3h7.8l-3.9,-6.6zM201.5,264.2h7.8l-3.9,-6.6zM203.3,252.0h7.8l-3.9,-6.6zM205.0,266.4h7.8l-3.9,-6.6zM206.8,276.6h7.8l-3.9,-6.6zM208.6,290.7h7.8l-3.9,-6.6zM210.4,311.7h7.8l-3.9,-6.6zM212.7,274.2h7.8l-3.9,-6.6zM214.4,306.8h7.8l-3.9,-6.6zM216.2,328.1h7.8l-3.9,-6.6zM218.6,288.3h7.8l-3.9,-6.6zM220.9,275.3h7.8l-3.9,-6.6zM222.7,263.1h7.8l-3.9,-6.6zM224.4,261.3h7.8l-3.9,-6.6zM226.2,277.5h7.8l-3.9,-6.6zM227.9,283.6h7.8l-3.9,-6.6zM230.1,273.3h7.8l-3.9,-6.6zM232.6,322.3h7.8l-3.9,-6.6zM234.3,296.1h7.8l-3.9,-6.6zM236.1,275.4h7.8l-3.9,-6.6zM238.5,234.4h7.8l-3.9,-6.6zM240.6,253.3h7.8l-3.9,-6.6zM243.2,229.7h7.8l-3.9,-6.6zM245.5,257.8h7.8l-3.9,-6.6zM247.6,232.0h7.8l-3.9,-6.6zM249.6,260.2h7.8l-3.9,-6.6zM251.6,285.9h7.8l-3.9,-6.6zM254.3,254.3h7.8l-3.9,-6.6zM256.6,262.5h7.8l-3.9,-6.6zM259.0,325.8h7.8l-3.9,-6.6zM260.8,303.5h7.8l-3.9,-6.6zM262.5,273.1h7.8l-3.9,-6.6zM264.6,263.3h7.8l-3.9,-6.6zM267.2,249.6h7.8l-3.9,-6.6zM269.6,265.3h7.8l-3.9,-6.6zM271.9,283.6h7.8l-3.9,-6.6zM273.7,296.5h7.8l-3.9,-6.6zM275.6,270.7h7.8l-3.9,-6.6zM277.7,294.2h7.8l-3.9,-6.6zM280.1,281.3h7.8l-3.9,-6.6zM282.4,275.4h7.8l-3.9,-6.6zM284.8,285.9h7.8l-3.9,-6.6zM287.1,259.0h7.8l-3.9,-6.6zM288.9,268.3h7.8l-3.9,-6.6zM290.6,283.6h7.8l-3.9,-6.6zM293.4,297.9h7.8l-3.9,-6.6zM296.5,269.5h7.8l-3.9,-6.6zM298.8,281.3h7.8l-3.9,-6.6zM301.2,277.7h7.8l-3.9,-6.6zM303.5,298.8h7.8l-3.9,-6.6zM304.7,323.4h7.8l-3.9,-6.6zM307.6,293.6h7.8l-3.9,-6.6zM310.0,321.7h7.8l-3.9,-6.6zM312.1,303.3h7.8l-3.9,-6.6zM314.1,322.3h7.8l-3.9,-6.6zM317.0,246.7h7.8l-3.9,-6.6zM319.3,265.5h7.8l-3.9,-6.6zM321.6,278.3h7.8l-3.9,-6.6zM324.0,254.9h7.8l-3.9,-6.6zM326.4,298.3h7.8l-3.9,-6.6zM328.2,280.9h7.8l-3.9,-6.6zM329.9,258.5h7.8l-3.9,-6.6zM332.1,273.3h7.8l-3.9,-6.6zM334.6,292.4h7.8l-3.9,-6.6zM336.4,280.8h7.8l-3.9,-6.6zM338.1,273.7h7.8l-3.9,-6.6zM339.9,264.7h7.8l-3.9,-6.6zM341.6,250.3h7.8l-3.9,-6.6zM343.9,293.6h7.8l-3.9,-6.6zM346.3,303.0h7.8l-3.9,-6.6zM348.1,284.4h7.8l-3.9,-6.6zM349.8,277.2h7.8l-3.9,-6.6zM351.6,270.2h7.8l-3.9,-6.6zM353.3,252.6h7.8l-3.9,-6.6zM355.7,297.1h7.8l-3.9,-6.6zM357.6,263.3h7.8l-3.9,-6.6zM359.2,245.6h7.8l-3.9,-6.6zM361.0,258.6h7.8l-3.9,-6.6zM362.7,281.9h7.8l-3.9,-6.6zM364.5,321.5h7.8l-3.9,-6.6zM366.6,301.0h7.8l-3.9,-6.6zM368.9,288.6h7.8l-3.9,-6.6zM371.7,262.6h7.8l-3.9,-6.6zM374.4,285.9h7.8l-3.9,-6.6zM377.2,274.9h7.8l-3.9,-6.6zM379.9,268.1h7.8l-3.9,-6.6zM382.1,258.3h7.8l-3.9,-6.6zM384.0,244.8h7.8l-3.9,-6.6zM386.8,313.3h7.8l-3.9,-6.6zM388.9,273.3h7.8l-3.9,-6.6zM390.9,251.7h7.8l-3.9,-6.6zM393.0,269.2h7.8l-3.9,-6.6zM395.0,276.3h7.8l-3.9,-6.6zM396.8,347.5h7.8l-3.9,-6.6zM399.1,293.3h7.8l-3.9,-6.6zM400.5,248.9h7.8l-3.9,-6.6zM402.6,258.3h7.8l-3.9,-6.6zM404.6,270.8h7.8l-3.9,-6.6zM407.3,305.1h7.8l-3.9,-6.6zM409.1,263.3h7.8l-3.9,-6.6zM411.4,225.6h7.8l-3.9,-6.6zM413.6,253.3h7.8l-3.9,-6.6zM415.5,306.5h7.8l-3.9,-6.6zM417.6,285.3h7.8l-3.9,-6.6zM419.6,262.6h7.8l-3.9,-6.6zM421.4,240.4h7.8l-3.9,-6.6zM423.2,223.5h7.8l-3.9,-6.6zM425.1,243.3h7.8l-3.9,-6.6zM427.0,271.8h7.8l-3.9,-6.6zM429.6,248.3h7.8l-3.9,-6.6zM432.1,222.2h7.8l-3.9,-6.6zM434.6,265.5h7.8l-3.9,-6.6zM437.2,278.2h7.8l-3.9,-6.6zM439.7,251.5h7.8l-3.9,-6.6zM442.3,228.6h7.8l-3.9,-6.6zM444.8,259.1h7.8l-3.9,-6.6zM447.1,243.3h7.8l-3.9,-6.6zM448.6,228.6h7.8l-3.9,-6.6zM450.6,246.4h7.8l-3.9,-6.6zM452.5,269.3h7.8l-3.9,-6.6zM455.0,330.3h7.8l-3.9,-6.6zM457.5,276.9h7.8l-3.9,-6.6zM460.1,294.7h7.8l-3.9,-6.6zM461.9,283.3h7.8l-3.9,-6.6zM463.9,264.2h7.8l-3.9,-6.6zM465.9,243.3h7.8l-3.9,-6.6zM467.7,227.3h7.8l-3.9,-6.6zM470.3,259.1h7.8l-3.9,-6.6zM472.8,278.2h7.8l-3.9,-6.6zM475.2,326.5h7.8l-3.9,-6.6zM477.0,279.2h7.8l-3.9,-6.6zM478.7,305.0h7.8l-3.9,-6.6zM480.6,270.6h7.8l-3.9,-6.6zM482.4,275.3h7.8l-3.9,-6.6zM483.8,268.5h7.8l-3.9,-6.6zM486.1,265.3h7.8l-3.9,-6.6zM488.1,262.0h7.8l-3.9,-6.6zM490.2,268.5h7.8l-3.9,-6.6zM491.6,277.1h7.8l-3.9,-6.6zM493.5,287.8h7.8l-3.9,-6.6zM495.6,309.3h7.8l-3.9,-6.6zM497.4,303.3h7.8l-3.9,-6.6zM499.0,307.2h7.8l-3.9,-6.6zM500.8,305.3h7.8l-3.9,-6.6zM502.5,308.2h7.8l-3.9,-6.6zM504.7,287.8h7.8l-3.9,-6.6zM506.4,274.9h7.8l-3.9,-6.6zM508.5,244.8h7.8l-3.9,-6.6zM510.4,263.3h7.8l-3.9,-6.6zM511.7,247.0h7.8l-3.9,-6.6zM513.3,277.1h7.8l-3.9,-6.6zM516.0,257.7h7.8l-3.9,-6.6zM517.6,265.3h7.8l-3.9,-6.6zM519.3,270.6h7.8l-3.9,-6.6zM520.9,261.3h7.8l-3.9,-6.6zM522.5,254.5h7.8l-3.9,-6.6zM524.1,263.3h7.8l-3.9,-6.6zM525.7,254.5h7.8l-3.9,-6.6zM527.3,265.3h7.8l-3.9,-6.6zM528.9,245.9h7.8l-3.9,-6.6zM530.6,251.3h7.8l-3.9,-6.6zM532.2,253.4h7.8l-3.9,-6.6zM534.4,293.6h7.8l-3.9,-6.6zM536.6,272.1h7.8l-3.9,-6.6zM538.7,259.2h7.8l-3.9,-6.6zM540.9,276.4h7.8l-3.9,-6.6zM543.0,265.3h7.8l-3.9,-6.6zM545.2,248.4h7.8l-3.9,-6.6zM547.3,274.2h7.8l-3.9,-6.6zM550.5,276.4h7.8l-3.9,-6.6zM552.7,290.3h7.8l-3.9,-6.6zM554.8,261.3h7.8l-3.9,-6.6zM557.0,287.1h7.8l-3.9,-6.6zM558.6,273.3h7.8l-3.9,-6.6zM560.2,288.2h7.8l-3.9,-6.6zM563.4,257.0h7.8l-3.9,-6.6zM565.6,302.2h7.8l-3.9,-6.6zM567.7,309.7h7.8l-3.9,-6.6zM569.9,238.7h7.8l-3.9,-6.6zM571.6,253.3h7.8l-3.9,-6.6zM573.1,268.8h7.8l-3.9,-6.6zM576.3,245.2h7.8l-3.9,-6.6zM578.5,277.4h7.8l-3.9,-6.6zM580.6,252.7h7.8l-3.9,-6.6zM582.5,261.3h7.8l-3.9,-6.6zM584.3,272.1h7.8l-3.9,-6.6zM586.5,254.9h7.8l-3.9,-6.6zM588.6,248.4h7.8l-3.9,-6.6zM590.8,304.3h7.8l-3.9,-6.6zM592.9,272.1h7.8l-3.9,-6.6zM595.1,242.0h7.8l-3.9,-6.6zM596.9,248.3h7.8l-3.9,-6.6zM598.3,257.0h7.8l-3.9,-6.6zM601.5,280.7h7.8l-3.9,-6.6zM604.8,258.1h7.8l-3.9,-6.6zM608.0,248.4h7.8l-3.9,-6.6zM609.6,243.3h7.8l-3.9,-6.6zM611.2,237.7h7.8l-3.9,-6.6zM613.1,233.3h7.8l-3.9,-6.6zM616.0,225.3h7.8l-3.9,-6.6z"/>
</g>
<g stroke="#000" stroke-width="2.1" stroke-dasharray="4.6 2.79" fill="none">
<path d="M226,100.8V408.5"/>
<path d="M317,93.1V400.8"/>
<path d="M471.2,71.9V379.6"/>
<path d="M606.7,47.9V355.6"/>
</g>
<path d="M166.4,383.6L208.9,398.3" stroke="#000" stroke-width="1.7" fill="none"/><path d="M220.7,402.4L205.8,401.2L208.2,394.2z" fill="#000"/>
<path d="M286.4,375.9L304.2,390.6" stroke="#000" stroke-width="1.7" fill="none"/><path d="M313.8,398.6L300.3,392.2L305.0,386.5z" fill="#000"/>
<path d="M509.9,79.4L489.3,95.4" stroke="#000" stroke-width="1.7" fill="none"/><path d="M479.4,103.1L488.6,91.3L493.1,97.1z" fill="#000"/>
<path d="M634.8,59.3L614.5,74.8" stroke="#000" stroke-width="1.7" fill="none"/><path d="M604.6,82.4L613.9,70.7L618.4,76.5z" fill="#000"/>
<g stroke="#000" stroke-width="2.2" fill="none" stroke-linecap="square">
<path d="M76.15,8.3V452.5H619.9"/>
<path d="M76.15,8.30h8.5M76.15,40.03h4.5M76.15,71.76h8.5M76.15,103.49h4.5M76.15,135.21h8.5M76.15,166.94h4.5M76.15,198.67h8.5M76.15,230.40h4.5M76.15,262.13h8.5M76.15,293.86h4.5M76.15,325.59h8.5M76.15,357.31h4.5M76.15,389.04h8.5M76.15,420.77h4.5M110.13,452.5v-4.6M144.12,452.5v-8.8M178.10,452.5v-4.6M212.09,452.5v-8.8M246.07,452.5v-4.6M280.05,452.5v-8.8M314.04,452.5v-4.6M348.02,452.5v-8.8M382.01,452.5v-4.6M415.99,452.5v-8.8M449.97,452.5v-4.6M483.96,452.5v-8.8M517.94,452.5v-4.6M551.93,452.5v-8.8M585.91,452.5v-4.6M619.89,452.5v-8.8" stroke-linecap="butt"/>
</g>
<g fill="#f00" stroke="#000" stroke-width="1">
<rect x="76" y="161.6" width="3.6" height="5.2"/>
<rect x="76.9" y="205.6" width="3.6" height="4.8"/>
<rect x="615.6" y="111.3" width="6.8" height="6.4"/>
<rect x="615.6" y="121.7" width="6.8" height="6.6"/>
</g>
<g font-size="18.5">
<text x="66.8" y="13.8" text-anchor="end">20.8</text>
<text x="66.8" y="77.3" text-anchor="end">20.4</text>
<text x="66.8" y="140.7" text-anchor="end">20.0</text>
<text x="66.8" y="204.2" text-anchor="end">19.6</text>
<text x="66.8" y="267.6" text-anchor="end">19.2</text>
<text x="66.8" y="331.1" text-anchor="end">18.8</text>
<text x="66.8" y="394.5" text-anchor="end">18.4</text>
<text x="66.8" y="458.0" text-anchor="end">18.0</text>
<text x="76.2" y="476.7" text-anchor="middle">0</text>
<text x="144.1" y="476.7" text-anchor="middle">30</text>
<text x="212.1" y="476.7" text-anchor="middle">60</text>
<text x="280.1" y="476.7" text-anchor="middle">90</text>
<text x="348.0" y="476.7" text-anchor="middle">120</text>
<text x="416.0" y="476.7" text-anchor="middle">150</text>
<text x="484.0" y="476.7" text-anchor="middle">180</text>
<text x="551.9" y="476.7" text-anchor="middle">210</text>
<text x="619.9" y="476.7" text-anchor="middle">240</text>
</g>
<text x="308.1" y="510.5" font-size="20.2">Time/min</text>
<text transform="translate(14.2,418.8) rotate(-90)" font-size="20.8">The temperature of measurement point 10/°C</text>
<g stroke-width="1.4">
<path d="M102.9,33.4H136.7" stroke="#E9A8F8"/>
<circle cx="119.8" cy="33.3" r="3.2" fill="#E9A8F8"/>
<path d="M102.9,51.3H136.7" stroke="#62CC62"/>
<path d="M116.1,49.1h7.4l-3.7,6.6z" fill="#62CC62"/>
<path d="M357,394H390.9" stroke="#52B9FA"/>
<rect x="371" y="391" width="6" height="6" fill="#52B9FA"/>
<path d="M357,412.4H390.9" stroke="#EBC465"/>
<path d="M370.3,414.6h7.4l-3.7,-6.4z" fill="#EBC465"/>
</g>
<g font-size="14.5">
<text transform="translate(140.9,38.6) scale(1,1.06)">The ground surface temperature of condition I</text>
<text transform="translate(140.9,56.1) scale(1,1.06)">The ground surface temperature of condition III</text>
<text transform="translate(395,398.7) scale(1,1.06)" font-size="14.45">The air temperature of condition I</text>
<text transform="translate(395,416.8) scale(1,1.06)" font-size="14.45">The air temperature of condition III</text>
</g>
<g font-size="15.4">
<text transform="translate(124.4,382.8) scale(1,1.06)">67min</text>
<text transform="translate(250.8,370.5) scale(1,1.06)">107min</text>
<text transform="translate(506.9,75.1) scale(1,1.03)">174min</text>
<text transform="translate(631.2,55.3) scale(1,1.05)">234min</text>
</g>
<g font-size="15.6" font-weight="bold">
<text transform="translate(76.9,153.5) scale(1,1.1)">19.829°C</text>
<text transform="translate(78.2,197.9) scale(1,1.1)">19.532°C</text>
<text transform="translate(624.9,111) scale(1,1.1)">20.131°C</text>
<text transform="translate(627.1,132.9) scale(1,1.1)">20.078°C</text>
</g>
</svg>
</body></html>
